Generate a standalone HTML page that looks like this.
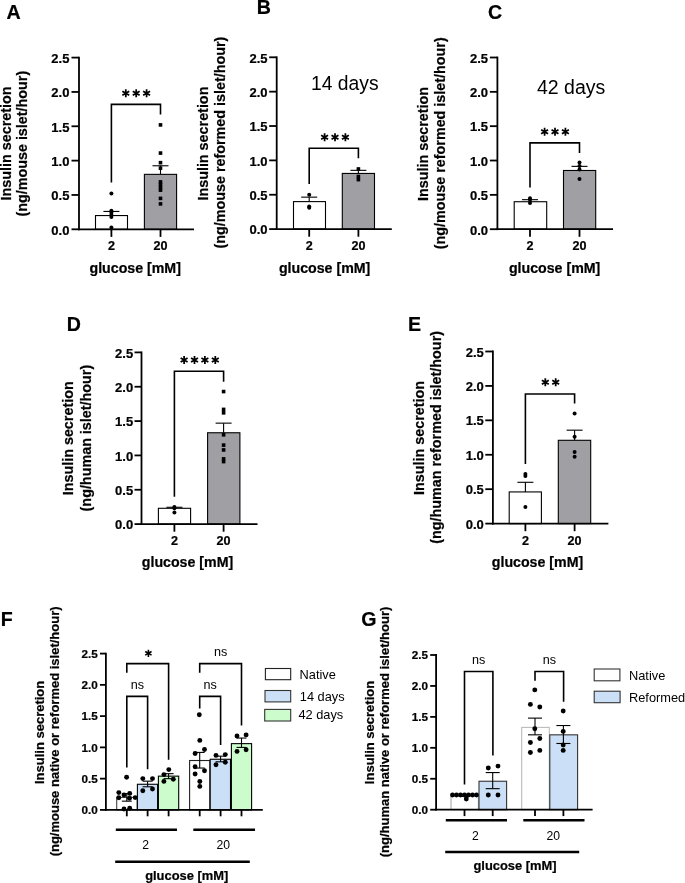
<!DOCTYPE html>
<html><head><meta charset="utf-8"><style>
html,body{margin:0;padding:0;background:#fff;width:685px;height:883px;overflow:hidden}
svg{display:block;will-change:transform;font-family:"Liberation Sans", sans-serif}
</style></head><body>
<svg width="685" height="883" viewBox="0 0 685 883">
<rect width="685" height="883" fill="#fff"/>
<text x="6.6" y="18.8" font-size="19.6" font-weight="bold" stroke="#000" stroke-width="0.22" text-anchor="start" fill="#000">A</text>
<text x="256.8" y="14" font-size="19.6" font-weight="bold" stroke="#000" stroke-width="0.22" text-anchor="start" fill="#000">B</text>
<text x="488" y="18.8" font-size="19.6" font-weight="bold" stroke="#000" stroke-width="0.22" text-anchor="start" fill="#000">C</text>
<text x="66.7" y="330.9" font-size="19.6" font-weight="bold" stroke="#000" stroke-width="0.22" text-anchor="start" fill="#000">D</text>
<text x="408" y="330.9" font-size="19.6" font-weight="bold" stroke="#000" stroke-width="0.22" text-anchor="start" fill="#000">E</text>
<text x="0.8" y="626.1" font-size="19.6" font-weight="bold" stroke="#000" stroke-width="0.22" text-anchor="start" fill="#000">F</text>
<text x="361.3" y="625.5" font-size="19.6" font-weight="bold" stroke="#000" stroke-width="0.22" text-anchor="start" fill="#000">G</text>
<rect x="95.5" y="215.56" width="32" height="13.74" fill="#fff" stroke="#000" stroke-width="1.1"/>
<rect x="144.4" y="174.36" width="32.2" height="54.94" fill="#a09fa4" stroke="#000" stroke-width="1.1"/>
<line x1="111.4" y1="211.44" x2="111.4" y2="215.56" stroke="#000" stroke-width="1.1" stroke-linecap="butt"/>
<line x1="103.4" y1="211.44" x2="119.4" y2="211.44" stroke="#000" stroke-width="1.1" stroke-linecap="butt"/>
<line x1="160.5" y1="165.77" x2="160.5" y2="174.36" stroke="#000" stroke-width="1.1" stroke-linecap="butt"/>
<line x1="152.5" y1="165.77" x2="168.5" y2="165.77" stroke="#000" stroke-width="1.1" stroke-linecap="butt"/>
<circle cx="111.4" cy="193.59" r="2" fill="#000"/>
<circle cx="111.4" cy="210.76" r="2" fill="#000"/>
<circle cx="111.4" cy="212.82" r="2" fill="#000"/>
<circle cx="111.4" cy="214.88" r="2" fill="#000"/>
<circle cx="111.4" cy="216.94" r="2" fill="#000"/>
<circle cx="111.4" cy="227.58" r="2" fill="#000"/>
<rect x="158.7" y="123.11" width="3.6" height="3.6" fill="#000"/>
<rect x="158.7" y="151.27" width="3.6" height="3.6" fill="#000"/>
<rect x="158.7" y="160.88" width="3.6" height="3.6" fill="#000"/>
<rect x="158.7" y="166.37" width="3.6" height="3.6" fill="#000"/>
<rect x="158.7" y="180.11" width="3.6" height="3.6" fill="#000"/>
<rect x="158.7" y="182.86" width="3.6" height="3.6" fill="#000"/>
<rect x="158.7" y="185.61" width="3.6" height="3.6" fill="#000"/>
<rect x="158.7" y="188.35" width="3.6" height="3.6" fill="#000"/>
<rect x="158.7" y="196.59" width="3.6" height="3.6" fill="#000"/>
<rect x="158.7" y="202.09" width="3.6" height="3.6" fill="#000"/>
<line x1="79" y1="56.7" x2="79" y2="230.2" stroke="#000" stroke-width="1.8" stroke-linecap="butt"/>
<line x1="78.1" y1="229.3" x2="194" y2="229.3" stroke="#000" stroke-width="1.8" stroke-linecap="butt"/>
<line x1="71.5" y1="229.3" x2="79" y2="229.3" stroke="#000" stroke-width="1.8" stroke-linecap="butt"/>
<text x="69.4" y="234.6" font-size="13" font-weight="bold" stroke="#000" stroke-width="0.22" text-anchor="end" fill="#000">0.0</text>
<line x1="71.5" y1="194.96" x2="79" y2="194.96" stroke="#000" stroke-width="1.8" stroke-linecap="butt"/>
<text x="69.4" y="200.26" font-size="13" font-weight="bold" stroke="#000" stroke-width="0.22" text-anchor="end" fill="#000">0.5</text>
<line x1="71.5" y1="160.62" x2="79" y2="160.62" stroke="#000" stroke-width="1.8" stroke-linecap="butt"/>
<text x="69.4" y="165.92" font-size="13" font-weight="bold" stroke="#000" stroke-width="0.22" text-anchor="end" fill="#000">1.0</text>
<line x1="71.5" y1="126.28" x2="79" y2="126.28" stroke="#000" stroke-width="1.8" stroke-linecap="butt"/>
<text x="69.4" y="131.58" font-size="13" font-weight="bold" stroke="#000" stroke-width="0.22" text-anchor="end" fill="#000">1.5</text>
<line x1="71.5" y1="91.94" x2="79" y2="91.94" stroke="#000" stroke-width="1.8" stroke-linecap="butt"/>
<text x="69.4" y="97.24" font-size="13" font-weight="bold" stroke="#000" stroke-width="0.22" text-anchor="end" fill="#000">2.0</text>
<line x1="71.5" y1="57.6" x2="79" y2="57.6" stroke="#000" stroke-width="1.8" stroke-linecap="butt"/>
<text x="69.4" y="62.9" font-size="13" font-weight="bold" stroke="#000" stroke-width="0.22" text-anchor="end" fill="#000">2.5</text>
<line x1="111.4" y1="229.3" x2="111.4" y2="236.9" stroke="#000" stroke-width="1.8" stroke-linecap="butt"/>
<line x1="160.5" y1="229.3" x2="160.5" y2="236.9" stroke="#000" stroke-width="1.8" stroke-linecap="butt"/>
<text x="111.4" y="250.1" font-size="12.6" font-weight="bold" stroke="#000" stroke-width="0.22" text-anchor="middle" fill="#000">2</text>
<text x="160.5" y="250.1" font-size="12.6" font-weight="bold" stroke="#000" stroke-width="0.22" text-anchor="middle" fill="#000">20</text>
<text x="135.2" y="272.6" font-size="14.2" font-weight="bold" stroke="#000" stroke-width="0.22" text-anchor="middle" fill="#000">glucose [mM]</text>
<path d="M111.4,182.6V104.4H160.5V114.4" stroke="#000" stroke-width="1.6" fill="none" stroke-linejoin="miter"/>
<path d="M125.8,89.2L125.8,97.2M122.34,91.2L129.26,95.2M122.34,95.2L129.26,91.2" stroke="#000" stroke-width="1.75" fill="none" stroke-linejoin="miter"/>
<path d="M136.2,89.2L136.2,97.2M132.74,91.2L139.66,95.2M132.74,95.2L139.66,91.2" stroke="#000" stroke-width="1.75" fill="none" stroke-linejoin="miter"/>
<path d="M146.6,89.2L146.6,97.2M143.14,91.2L150.06,95.2M143.14,95.2L150.06,91.2" stroke="#000" stroke-width="1.75" fill="none" stroke-linejoin="miter"/>
<text transform="translate(10.9,143.5) rotate(-90)" font-size="14.35" font-weight="bold" stroke="#000" stroke-width="0.22" text-anchor="middle" fill="#000">Insulin secretion</text>
<text transform="translate(27,143.7) rotate(-90)" font-size="14.35" font-weight="bold" stroke="#000" stroke-width="0.22" text-anchor="middle" fill="#000">(ng/mouse islet/hour)</text>
<rect x="293.5" y="201.61" width="32" height="27.49" fill="#fff" stroke="#000" stroke-width="1.1"/>
<rect x="342.3" y="173.44" width="32.2" height="55.66" fill="#a09fa4" stroke="#000" stroke-width="1.1"/>
<line x1="309.2" y1="197.15" x2="309.2" y2="201.61" stroke="#000" stroke-width="1.1" stroke-linecap="butt"/>
<line x1="301.2" y1="197.15" x2="317.2" y2="197.15" stroke="#000" stroke-width="1.1" stroke-linecap="butt"/>
<line x1="358.4" y1="170.34" x2="358.4" y2="173.44" stroke="#000" stroke-width="1.1" stroke-linecap="butt"/>
<line x1="350.4" y1="170.34" x2="366.4" y2="170.34" stroke="#000" stroke-width="1.1" stroke-linecap="butt"/>
<circle cx="309.2" cy="194.74" r="2" fill="#000"/>
<circle cx="309.2" cy="206.42" r="2" fill="#000"/>
<circle cx="309.2" cy="207.8" r="2" fill="#000"/>
<rect x="356.6" y="167.17" width="3.6" height="3.6" fill="#000"/>
<rect x="356.6" y="174.73" width="3.6" height="3.6" fill="#000"/>
<rect x="356.6" y="177.82" width="3.6" height="3.6" fill="#000"/>
<line x1="276.7" y1="56.4" x2="276.7" y2="230" stroke="#000" stroke-width="1.8" stroke-linecap="butt"/>
<line x1="275.8" y1="229.1" x2="391.8" y2="229.1" stroke="#000" stroke-width="1.8" stroke-linecap="butt"/>
<line x1="269.2" y1="229.1" x2="276.7" y2="229.1" stroke="#000" stroke-width="1.8" stroke-linecap="butt"/>
<text x="267.6" y="234.4" font-size="13" font-weight="bold" stroke="#000" stroke-width="0.22" text-anchor="end" fill="#000">0.0</text>
<line x1="269.2" y1="194.74" x2="276.7" y2="194.74" stroke="#000" stroke-width="1.8" stroke-linecap="butt"/>
<text x="267.6" y="200.04" font-size="13" font-weight="bold" stroke="#000" stroke-width="0.22" text-anchor="end" fill="#000">0.5</text>
<line x1="269.2" y1="160.38" x2="276.7" y2="160.38" stroke="#000" stroke-width="1.8" stroke-linecap="butt"/>
<text x="267.6" y="165.68" font-size="13" font-weight="bold" stroke="#000" stroke-width="0.22" text-anchor="end" fill="#000">1.0</text>
<line x1="269.2" y1="126.02" x2="276.7" y2="126.02" stroke="#000" stroke-width="1.8" stroke-linecap="butt"/>
<text x="267.6" y="131.32" font-size="13" font-weight="bold" stroke="#000" stroke-width="0.22" text-anchor="end" fill="#000">1.5</text>
<line x1="269.2" y1="91.66" x2="276.7" y2="91.66" stroke="#000" stroke-width="1.8" stroke-linecap="butt"/>
<text x="267.6" y="96.96" font-size="13" font-weight="bold" stroke="#000" stroke-width="0.22" text-anchor="end" fill="#000">2.0</text>
<line x1="269.2" y1="57.3" x2="276.7" y2="57.3" stroke="#000" stroke-width="1.8" stroke-linecap="butt"/>
<text x="267.6" y="62.6" font-size="13" font-weight="bold" stroke="#000" stroke-width="0.22" text-anchor="end" fill="#000">2.5</text>
<line x1="309.2" y1="229.1" x2="309.2" y2="236.7" stroke="#000" stroke-width="1.8" stroke-linecap="butt"/>
<line x1="358.4" y1="229.1" x2="358.4" y2="236.7" stroke="#000" stroke-width="1.8" stroke-linecap="butt"/>
<text x="309.2" y="250.1" font-size="12.6" font-weight="bold" stroke="#000" stroke-width="0.22" text-anchor="middle" fill="#000">2</text>
<text x="358.4" y="250.1" font-size="12.6" font-weight="bold" stroke="#000" stroke-width="0.22" text-anchor="middle" fill="#000">20</text>
<text x="324.6" y="272.8" font-size="14.2" font-weight="bold" stroke="#000" stroke-width="0.22" text-anchor="middle" fill="#000">glucose [mM]</text>
<path d="M309.2,183.9V148.2H358.4V158.3" stroke="#000" stroke-width="1.6" fill="none" stroke-linejoin="miter"/>
<path d="M324.6,133.2L324.6,141.2M321.14,135.2L328.06,139.2M321.14,139.2L328.06,135.2" stroke="#000" stroke-width="1.75" fill="none" stroke-linejoin="miter"/>
<path d="M335,133.2L335,141.2M331.54,135.2L338.46,139.2M331.54,139.2L338.46,135.2" stroke="#000" stroke-width="1.75" fill="none" stroke-linejoin="miter"/>
<path d="M345.4,133.2L345.4,141.2M341.94,135.2L348.86,139.2M341.94,139.2L348.86,135.2" stroke="#000" stroke-width="1.75" fill="none" stroke-linejoin="miter"/>
<text x="311" y="89.9" font-size="19.3" text-anchor="start" fill="#000">14 days</text>
<text transform="translate(208.4,143.6) rotate(-90)" font-size="14.35" font-weight="bold" stroke="#000" stroke-width="0.22" text-anchor="middle" fill="#000">Insulin secretion</text>
<text transform="translate(225,142.6) rotate(-90)" font-size="14.35" font-weight="bold" stroke="#000" stroke-width="0.22" text-anchor="middle" fill="#000">(ng/mouse reformed islet/hour)</text>
<rect x="514.2" y="201.73" width="32.5" height="27.47" fill="#fff" stroke="#000" stroke-width="1.1"/>
<rect x="563.5" y="170.48" width="32.2" height="58.72" fill="#a09fa4" stroke="#000" stroke-width="1.1"/>
<line x1="530" y1="199.67" x2="530" y2="201.04" stroke="#000" stroke-width="1.1" stroke-linecap="butt"/>
<line x1="522" y1="199.67" x2="538" y2="199.67" stroke="#000" stroke-width="1.1" stroke-linecap="butt"/>
<line x1="579.5" y1="166.36" x2="579.5" y2="170.14" stroke="#000" stroke-width="1.1" stroke-linecap="butt"/>
<line x1="571.5" y1="166.36" x2="587.5" y2="166.36" stroke="#000" stroke-width="1.1" stroke-linecap="butt"/>
<circle cx="530" cy="198.29" r="2" fill="#000"/>
<circle cx="530" cy="199.67" r="2" fill="#000"/>
<circle cx="530" cy="203.1" r="2" fill="#000"/>
<circle cx="579.5" cy="162.58" r="2" fill="#000"/>
<circle cx="579.5" cy="166.01" r="2" fill="#000"/>
<circle cx="579.5" cy="169.45" r="2" fill="#000"/>
<circle cx="579.5" cy="179.06" r="2" fill="#000"/>
<line x1="497.4" y1="56.6" x2="497.4" y2="230.1" stroke="#000" stroke-width="1.8" stroke-linecap="butt"/>
<line x1="496.5" y1="229.2" x2="613" y2="229.2" stroke="#000" stroke-width="1.8" stroke-linecap="butt"/>
<line x1="489.9" y1="229.2" x2="497.4" y2="229.2" stroke="#000" stroke-width="1.8" stroke-linecap="butt"/>
<text x="488.1" y="234.5" font-size="13" font-weight="bold" stroke="#000" stroke-width="0.22" text-anchor="end" fill="#000">0.0</text>
<line x1="489.9" y1="194.86" x2="497.4" y2="194.86" stroke="#000" stroke-width="1.8" stroke-linecap="butt"/>
<text x="488.1" y="200.16" font-size="13" font-weight="bold" stroke="#000" stroke-width="0.22" text-anchor="end" fill="#000">0.5</text>
<line x1="489.9" y1="160.52" x2="497.4" y2="160.52" stroke="#000" stroke-width="1.8" stroke-linecap="butt"/>
<text x="488.1" y="165.82" font-size="13" font-weight="bold" stroke="#000" stroke-width="0.22" text-anchor="end" fill="#000">1.0</text>
<line x1="489.9" y1="126.18" x2="497.4" y2="126.18" stroke="#000" stroke-width="1.8" stroke-linecap="butt"/>
<text x="488.1" y="131.48" font-size="13" font-weight="bold" stroke="#000" stroke-width="0.22" text-anchor="end" fill="#000">1.5</text>
<line x1="489.9" y1="91.84" x2="497.4" y2="91.84" stroke="#000" stroke-width="1.8" stroke-linecap="butt"/>
<text x="488.1" y="97.14" font-size="13" font-weight="bold" stroke="#000" stroke-width="0.22" text-anchor="end" fill="#000">2.0</text>
<line x1="489.9" y1="57.5" x2="497.4" y2="57.5" stroke="#000" stroke-width="1.8" stroke-linecap="butt"/>
<text x="488.1" y="62.8" font-size="13" font-weight="bold" stroke="#000" stroke-width="0.22" text-anchor="end" fill="#000">2.5</text>
<line x1="530" y1="229.2" x2="530" y2="236.8" stroke="#000" stroke-width="1.8" stroke-linecap="butt"/>
<line x1="579.5" y1="229.2" x2="579.5" y2="236.8" stroke="#000" stroke-width="1.8" stroke-linecap="butt"/>
<text x="530" y="250.4" font-size="12.6" font-weight="bold" stroke="#000" stroke-width="0.22" text-anchor="middle" fill="#000">2</text>
<text x="579.5" y="250.4" font-size="12.6" font-weight="bold" stroke="#000" stroke-width="0.22" text-anchor="middle" fill="#000">20</text>
<text x="554.6" y="272.9" font-size="14.2" font-weight="bold" stroke="#000" stroke-width="0.22" text-anchor="middle" fill="#000">glucose [mM]</text>
<path d="M530,187.6V142.9H579.5V153.1" stroke="#000" stroke-width="1.6" fill="none" stroke-linejoin="miter"/>
<path d="M544.6,127.7L544.6,135.7M541.14,129.7L548.06,133.7M541.14,133.7L548.06,129.7" stroke="#000" stroke-width="1.75" fill="none" stroke-linejoin="miter"/>
<path d="M555,127.7L555,135.7M551.54,129.7L558.46,133.7M551.54,133.7L558.46,129.7" stroke="#000" stroke-width="1.75" fill="none" stroke-linejoin="miter"/>
<path d="M565.4,127.7L565.4,135.7M561.94,129.7L568.86,133.7M561.94,133.7L568.86,129.7" stroke="#000" stroke-width="1.75" fill="none" stroke-linejoin="miter"/>
<text x="537" y="94.4" font-size="19.5" text-anchor="start" fill="#000">42 days</text>
<text transform="translate(428.3,144) rotate(-90)" font-size="14.35" font-weight="bold" stroke="#000" stroke-width="0.22" text-anchor="middle" fill="#000">Insulin secretion</text>
<text transform="translate(445.3,143.3) rotate(-90)" font-size="14.35" font-weight="bold" stroke="#000" stroke-width="0.22" text-anchor="middle" fill="#000">(ng/mouse reformed islet/hour)</text>
<rect x="158.4" y="508.3" width="32.2" height="15.8" fill="#fff" stroke="#000" stroke-width="1.1"/>
<rect x="207.6" y="432.76" width="32.3" height="91.34" fill="#a09fa4" stroke="#000" stroke-width="1.1"/>
<line x1="174.4" y1="507.27" x2="174.4" y2="508.3" stroke="#000" stroke-width="1.1" stroke-linecap="butt"/>
<line x1="166.4" y1="507.27" x2="182.4" y2="507.27" stroke="#000" stroke-width="1.1" stroke-linecap="butt"/>
<line x1="223.6" y1="423.14" x2="223.6" y2="432.76" stroke="#000" stroke-width="1.1" stroke-linecap="butt"/>
<line x1="215.6" y1="423.14" x2="231.6" y2="423.14" stroke="#000" stroke-width="1.1" stroke-linecap="butt"/>
<circle cx="174.4" cy="506.93" r="2" fill="#000"/>
<circle cx="174.4" cy="508.3" r="2" fill="#000"/>
<circle cx="174.4" cy="512.42" r="2" fill="#000"/>
<rect x="221.8" y="389.75" width="3.6" height="3.6" fill="#000"/>
<rect x="221.8" y="407.6" width="3.6" height="3.6" fill="#000"/>
<rect x="221.8" y="411.04" width="3.6" height="3.6" fill="#000"/>
<rect x="221.8" y="433.02" width="3.6" height="3.6" fill="#000"/>
<rect x="221.8" y="443.32" width="3.6" height="3.6" fill="#000"/>
<rect x="221.8" y="448.13" width="3.6" height="3.6" fill="#000"/>
<rect x="221.8" y="457.05" width="3.6" height="3.6" fill="#000"/>
<rect x="221.8" y="459.8" width="3.6" height="3.6" fill="#000"/>
<line x1="141.5" y1="351.5" x2="141.5" y2="525" stroke="#000" stroke-width="1.8" stroke-linecap="butt"/>
<line x1="140.6" y1="524.1" x2="257.5" y2="524.1" stroke="#000" stroke-width="1.8" stroke-linecap="butt"/>
<line x1="134.5" y1="524.1" x2="141.5" y2="524.1" stroke="#000" stroke-width="1.8" stroke-linecap="butt"/>
<text x="133.2" y="529.4" font-size="13" font-weight="bold" stroke="#000" stroke-width="0.22" text-anchor="end" fill="#000">0.0</text>
<line x1="134.5" y1="489.76" x2="141.5" y2="489.76" stroke="#000" stroke-width="1.8" stroke-linecap="butt"/>
<text x="133.2" y="495.06" font-size="13" font-weight="bold" stroke="#000" stroke-width="0.22" text-anchor="end" fill="#000">0.5</text>
<line x1="134.5" y1="455.42" x2="141.5" y2="455.42" stroke="#000" stroke-width="1.8" stroke-linecap="butt"/>
<text x="133.2" y="460.72" font-size="13" font-weight="bold" stroke="#000" stroke-width="0.22" text-anchor="end" fill="#000">1.0</text>
<line x1="134.5" y1="421.08" x2="141.5" y2="421.08" stroke="#000" stroke-width="1.8" stroke-linecap="butt"/>
<text x="133.2" y="426.38" font-size="13" font-weight="bold" stroke="#000" stroke-width="0.22" text-anchor="end" fill="#000">1.5</text>
<line x1="134.5" y1="386.74" x2="141.5" y2="386.74" stroke="#000" stroke-width="1.8" stroke-linecap="butt"/>
<text x="133.2" y="392.04" font-size="13" font-weight="bold" stroke="#000" stroke-width="0.22" text-anchor="end" fill="#000">2.0</text>
<line x1="134.5" y1="352.4" x2="141.5" y2="352.4" stroke="#000" stroke-width="1.8" stroke-linecap="butt"/>
<text x="133.2" y="357.7" font-size="13" font-weight="bold" stroke="#000" stroke-width="0.22" text-anchor="end" fill="#000">2.5</text>
<line x1="174.4" y1="524.1" x2="174.4" y2="531.7" stroke="#000" stroke-width="1.8" stroke-linecap="butt"/>
<line x1="223.6" y1="524.1" x2="223.6" y2="531.7" stroke="#000" stroke-width="1.8" stroke-linecap="butt"/>
<text x="174.4" y="545.1" font-size="12.6" font-weight="bold" stroke="#000" stroke-width="0.22" text-anchor="middle" fill="#000">2</text>
<text x="223.6" y="545.1" font-size="12.6" font-weight="bold" stroke="#000" stroke-width="0.22" text-anchor="middle" fill="#000">20</text>
<text x="187.5" y="567.2" font-size="14.2" font-weight="bold" stroke="#000" stroke-width="0.22" text-anchor="middle" fill="#000">glucose [mM]</text>
<path d="M174.4,496.7V371.3H223.6V381.8" stroke="#000" stroke-width="1.6" fill="none" stroke-linejoin="miter"/>
<path d="M184.1,356L184.1,364M180.64,358L187.56,362M180.64,362L187.56,358" stroke="#000" stroke-width="1.75" fill="none" stroke-linejoin="miter"/>
<path d="M194.5,356L194.5,364M191.04,358L197.96,362M191.04,362L197.96,358" stroke="#000" stroke-width="1.75" fill="none" stroke-linejoin="miter"/>
<path d="M204.9,356L204.9,364M201.44,358L208.36,362M201.44,362L208.36,358" stroke="#000" stroke-width="1.75" fill="none" stroke-linejoin="miter"/>
<path d="M215.3,356L215.3,364M211.84,358L218.76,362M211.84,362L218.76,358" stroke="#000" stroke-width="1.75" fill="none" stroke-linejoin="miter"/>
<text transform="translate(73,438.3) rotate(-90)" font-size="14.35" font-weight="bold" stroke="#000" stroke-width="0.22" text-anchor="middle" fill="#000">Insulin secretion</text>
<text transform="translate(90.7,438.1) rotate(-90)" font-size="14.35" font-weight="bold" stroke="#000" stroke-width="0.22" text-anchor="middle" fill="#000">(ng/human islet/hour)</text>
<rect x="509.2" y="491.93" width="32.2" height="31.67" fill="#fff" stroke="#000" stroke-width="1.1"/>
<rect x="558.3" y="440.3" width="32.4" height="83.3" fill="#a09fa4" stroke="#000" stroke-width="1.1"/>
<line x1="525.4" y1="482.3" x2="525.4" y2="491.93" stroke="#000" stroke-width="1.1" stroke-linecap="butt"/>
<line x1="517.4" y1="482.3" x2="533.4" y2="482.3" stroke="#000" stroke-width="1.1" stroke-linecap="butt"/>
<line x1="574.6" y1="430.18" x2="574.6" y2="440.3" stroke="#000" stroke-width="1.1" stroke-linecap="butt"/>
<line x1="566.6" y1="430.18" x2="582.6" y2="430.18" stroke="#000" stroke-width="1.1" stroke-linecap="butt"/>
<circle cx="525.4" cy="474.04" r="2" fill="#000"/>
<circle cx="525.4" cy="476.1" r="2" fill="#000"/>
<circle cx="525.4" cy="507.08" r="2" fill="#000"/>
<circle cx="574.6" cy="413.46" r="2" fill="#000"/>
<circle cx="574.6" cy="436.86" r="2" fill="#000"/>
<circle cx="574.6" cy="452.01" r="2" fill="#000"/>
<circle cx="574.6" cy="456.83" r="2" fill="#000"/>
<line x1="492.9" y1="350.6" x2="492.9" y2="524.5" stroke="#000" stroke-width="1.8" stroke-linecap="butt"/>
<line x1="492" y1="523.6" x2="608.4" y2="523.6" stroke="#000" stroke-width="1.8" stroke-linecap="butt"/>
<line x1="485.3" y1="523.6" x2="492.9" y2="523.6" stroke="#000" stroke-width="1.8" stroke-linecap="butt"/>
<text x="483.8" y="528.6" font-size="13" font-weight="bold" stroke="#000" stroke-width="0.22" text-anchor="end" fill="#000">0.0</text>
<line x1="485.3" y1="489.18" x2="492.9" y2="489.18" stroke="#000" stroke-width="1.8" stroke-linecap="butt"/>
<text x="483.8" y="494.18" font-size="13" font-weight="bold" stroke="#000" stroke-width="0.22" text-anchor="end" fill="#000">0.5</text>
<line x1="485.3" y1="454.76" x2="492.9" y2="454.76" stroke="#000" stroke-width="1.8" stroke-linecap="butt"/>
<text x="483.8" y="459.76" font-size="13" font-weight="bold" stroke="#000" stroke-width="0.22" text-anchor="end" fill="#000">1.0</text>
<line x1="485.3" y1="420.34" x2="492.9" y2="420.34" stroke="#000" stroke-width="1.8" stroke-linecap="butt"/>
<text x="483.8" y="425.34" font-size="13" font-weight="bold" stroke="#000" stroke-width="0.22" text-anchor="end" fill="#000">1.5</text>
<line x1="485.3" y1="385.92" x2="492.9" y2="385.92" stroke="#000" stroke-width="1.8" stroke-linecap="butt"/>
<text x="483.8" y="390.92" font-size="13" font-weight="bold" stroke="#000" stroke-width="0.22" text-anchor="end" fill="#000">2.0</text>
<line x1="485.3" y1="351.5" x2="492.9" y2="351.5" stroke="#000" stroke-width="1.8" stroke-linecap="butt"/>
<text x="483.8" y="356.5" font-size="13" font-weight="bold" stroke="#000" stroke-width="0.22" text-anchor="end" fill="#000">2.5</text>
<line x1="525.4" y1="523.6" x2="525.4" y2="531.2" stroke="#000" stroke-width="1.8" stroke-linecap="butt"/>
<line x1="574.6" y1="523.6" x2="574.6" y2="531.2" stroke="#000" stroke-width="1.8" stroke-linecap="butt"/>
<text x="525.4" y="544.7" font-size="12.6" font-weight="bold" stroke="#000" stroke-width="0.22" text-anchor="middle" fill="#000">2</text>
<text x="574.6" y="544.7" font-size="12.6" font-weight="bold" stroke="#000" stroke-width="0.22" text-anchor="middle" fill="#000">20</text>
<text x="537.5" y="567.4" font-size="14.2" font-weight="bold" stroke="#000" stroke-width="0.22" text-anchor="middle" fill="#000">glucose [mM]</text>
<path d="M525.4,464V394H574.6V403.6" stroke="#000" stroke-width="1.6" fill="none" stroke-linejoin="miter"/>
<path d="M545.3,378.3L545.3,386.3M541.84,380.3L548.76,384.3M541.84,384.3L548.76,380.3" stroke="#000" stroke-width="1.75" fill="none" stroke-linejoin="miter"/>
<path d="M555.7,378.3L555.7,386.3M552.24,380.3L559.16,384.3M552.24,384.3L559.16,380.3" stroke="#000" stroke-width="1.75" fill="none" stroke-linejoin="miter"/>
<text transform="translate(424.2,437.9) rotate(-90)" font-size="14.35" font-weight="bold" stroke="#000" stroke-width="0.22" text-anchor="middle" fill="#000">Insulin secretion</text>
<text transform="translate(440.7,437.4) rotate(-90)" font-size="14.35" font-weight="bold" stroke="#000" stroke-width="0.22" text-anchor="middle" fill="#000">(ng/human reformed islet/hour)</text>
<rect x="116.7" y="797.4" width="20.5" height="12.5" fill="#fff" stroke="#444" stroke-width="1.1"/>
<rect x="137.4" y="784.27" width="20.2" height="25.63" fill="#cbdff7" stroke="#000" stroke-width="1.1"/>
<rect x="158.4" y="776.14" width="20.3" height="33.76" fill="#ccfccc" stroke="#000" stroke-width="1.1"/>
<rect x="189.6" y="760.51" width="20.2" height="49.39" fill="#fff" stroke="#222" stroke-width="1.1"/>
<rect x="210.2" y="759.26" width="20.3" height="50.64" fill="#cbdff7" stroke="#000" stroke-width="1.1"/>
<rect x="231.4" y="743.63" width="20.2" height="66.27" fill="#ccfccc" stroke="#000" stroke-width="1.1"/>
<line x1="105.9" y1="652.7" x2="105.9" y2="810.8" stroke="#000" stroke-width="1.8" stroke-linecap="butt"/>
<line x1="105" y1="809.9" x2="262.8" y2="809.9" stroke="#000" stroke-width="1.8" stroke-linecap="butt"/>
<line x1="100" y1="809.9" x2="105.9" y2="809.9" stroke="#000" stroke-width="1.8" stroke-linecap="butt"/>
<text x="97.7" y="814.2" font-size="11.7" font-weight="bold" stroke="#000" stroke-width="0.22" text-anchor="end" fill="#000">0.0</text>
<line x1="100" y1="778.64" x2="105.9" y2="778.64" stroke="#000" stroke-width="1.8" stroke-linecap="butt"/>
<text x="97.7" y="782.94" font-size="11.7" font-weight="bold" stroke="#000" stroke-width="0.22" text-anchor="end" fill="#000">0.5</text>
<line x1="100" y1="747.38" x2="105.9" y2="747.38" stroke="#000" stroke-width="1.8" stroke-linecap="butt"/>
<text x="97.7" y="751.68" font-size="11.7" font-weight="bold" stroke="#000" stroke-width="0.22" text-anchor="end" fill="#000">1.0</text>
<line x1="100" y1="716.12" x2="105.9" y2="716.12" stroke="#000" stroke-width="1.8" stroke-linecap="butt"/>
<text x="97.7" y="720.42" font-size="11.7" font-weight="bold" stroke="#000" stroke-width="0.22" text-anchor="end" fill="#000">1.5</text>
<line x1="100" y1="684.86" x2="105.9" y2="684.86" stroke="#000" stroke-width="1.8" stroke-linecap="butt"/>
<text x="97.7" y="689.16" font-size="11.7" font-weight="bold" stroke="#000" stroke-width="0.22" text-anchor="end" fill="#000">2.0</text>
<line x1="100" y1="653.6" x2="105.9" y2="653.6" stroke="#000" stroke-width="1.8" stroke-linecap="butt"/>
<text x="97.7" y="657.9" font-size="11.7" font-weight="bold" stroke="#000" stroke-width="0.22" text-anchor="end" fill="#000">2.5</text>
<line x1="126.8" y1="809.9" x2="126.8" y2="816.3" stroke="#000" stroke-width="1.8" stroke-linecap="butt"/>
<line x1="147.6" y1="809.9" x2="147.6" y2="816.3" stroke="#000" stroke-width="1.8" stroke-linecap="butt"/>
<line x1="168.6" y1="809.9" x2="168.6" y2="816.3" stroke="#000" stroke-width="1.8" stroke-linecap="butt"/>
<line x1="199.7" y1="809.9" x2="199.7" y2="816.3" stroke="#000" stroke-width="1.8" stroke-linecap="butt"/>
<line x1="220.6" y1="809.9" x2="220.6" y2="816.3" stroke="#000" stroke-width="1.8" stroke-linecap="butt"/>
<line x1="241.5" y1="809.9" x2="241.5" y2="816.3" stroke="#000" stroke-width="1.8" stroke-linecap="butt"/>
<text x="145.6" y="849.4" font-size="12.2" text-anchor="middle" fill="#000">2</text>
<text x="223.3" y="849.4" font-size="12.2" text-anchor="middle" fill="#000">20</text>
<text x="186.7" y="879.6" font-size="12.9" font-weight="bold" stroke="#000" stroke-width="0.22" text-anchor="middle" fill="#000">glucose [mM]</text>
<path d="M126.8,672.8V663.6H168.6V759.7" stroke="#000" stroke-width="1.6" fill="none" stroke-linejoin="miter"/>
<path d="M126.8,767.6V696.4H147.6V769.3" stroke="#000" stroke-width="1.6" fill="none" stroke-linejoin="miter"/>
<path d="M199.7,672.8V663.6H241.5V725.5" stroke="#000" stroke-width="1.6" fill="none" stroke-linejoin="miter"/>
<path d="M199.7,708.6V696.4H220.6V745.1" stroke="#000" stroke-width="1.6" fill="none" stroke-linejoin="miter"/>
<line x1="126.8" y1="793.66" x2="126.8" y2="801.15" stroke="#000" stroke-width="1.1" stroke-linecap="butt"/>
<line x1="121.8" y1="793.66" x2="131.8" y2="793.66" stroke="#000" stroke-width="1.1" stroke-linecap="butt"/>
<line x1="121.8" y1="801.15" x2="131.8" y2="801.15" stroke="#000" stroke-width="1.1" stroke-linecap="butt"/>
<line x1="147.6" y1="781.16" x2="147.6" y2="786.78" stroke="#000" stroke-width="1.1" stroke-linecap="butt"/>
<line x1="142.6" y1="781.16" x2="152.6" y2="781.16" stroke="#000" stroke-width="1.1" stroke-linecap="butt"/>
<line x1="142.6" y1="786.78" x2="152.6" y2="786.78" stroke="#000" stroke-width="1.1" stroke-linecap="butt"/>
<line x1="168.6" y1="773.66" x2="168.6" y2="778.66" stroke="#000" stroke-width="1.1" stroke-linecap="butt"/>
<line x1="163.6" y1="773.66" x2="173.6" y2="773.66" stroke="#000" stroke-width="1.1" stroke-linecap="butt"/>
<line x1="163.6" y1="778.66" x2="173.6" y2="778.66" stroke="#000" stroke-width="1.1" stroke-linecap="butt"/>
<line x1="199.7" y1="752.42" x2="199.7" y2="768.04" stroke="#000" stroke-width="1.1" stroke-linecap="butt"/>
<line x1="194.7" y1="752.42" x2="204.7" y2="752.42" stroke="#000" stroke-width="1.1" stroke-linecap="butt"/>
<line x1="194.7" y1="768.04" x2="204.7" y2="768.04" stroke="#000" stroke-width="1.1" stroke-linecap="butt"/>
<line x1="220.6" y1="756.17" x2="220.6" y2="761.79" stroke="#000" stroke-width="1.1" stroke-linecap="butt"/>
<line x1="215.6" y1="756.17" x2="225.6" y2="756.17" stroke="#000" stroke-width="1.1" stroke-linecap="butt"/>
<line x1="215.6" y1="761.79" x2="225.6" y2="761.79" stroke="#000" stroke-width="1.1" stroke-linecap="butt"/>
<line x1="241.5" y1="738.05" x2="241.5" y2="747.42" stroke="#000" stroke-width="1.1" stroke-linecap="butt"/>
<line x1="236.5" y1="738.05" x2="246.5" y2="738.05" stroke="#000" stroke-width="1.1" stroke-linecap="butt"/>
<line x1="236.5" y1="747.42" x2="246.5" y2="747.42" stroke="#000" stroke-width="1.1" stroke-linecap="butt"/>
<circle cx="126.6" cy="777.2" r="2.45" fill="#000"/>
<circle cx="118.8" cy="792.6" r="2.45" fill="#000"/>
<circle cx="124" cy="795" r="2.45" fill="#000"/>
<circle cx="129.7" cy="793.4" r="2.45" fill="#000"/>
<circle cx="118.8" cy="797.8" r="2.45" fill="#000"/>
<circle cx="129.5" cy="798.3" r="2.45" fill="#000"/>
<circle cx="135.2" cy="797.6" r="2.45" fill="#000"/>
<circle cx="124" cy="809" r="2.45" fill="#000"/>
<circle cx="129.7" cy="808.2" r="2.45" fill="#000"/>
<circle cx="142.8" cy="778.6" r="2.45" fill="#000"/>
<circle cx="152.5" cy="778.6" r="2.45" fill="#000"/>
<circle cx="142.8" cy="790.7" r="2.45" fill="#000"/>
<circle cx="152.5" cy="789" r="2.45" fill="#000"/>
<circle cx="168.8" cy="769.6" r="2.45" fill="#000"/>
<circle cx="163.9" cy="774.6" r="2.45" fill="#000"/>
<circle cx="163.9" cy="781.4" r="2.45" fill="#000"/>
<circle cx="173.3" cy="779.2" r="2.45" fill="#000"/>
<circle cx="199.3" cy="714.7" r="2.45" fill="#000"/>
<circle cx="199.8" cy="740.4" r="2.45" fill="#000"/>
<circle cx="204.5" cy="749.5" r="2.45" fill="#000"/>
<circle cx="195.1" cy="753.5" r="2.45" fill="#000"/>
<circle cx="195.1" cy="766.7" r="2.45" fill="#000"/>
<circle cx="204.5" cy="770.7" r="2.45" fill="#000"/>
<circle cx="195.1" cy="774" r="2.45" fill="#000"/>
<circle cx="199.8" cy="781.5" r="2.45" fill="#000"/>
<circle cx="199.8" cy="786.4" r="2.45" fill="#000"/>
<circle cx="216" cy="755.4" r="2.45" fill="#000"/>
<circle cx="225.3" cy="754.6" r="2.45" fill="#000"/>
<circle cx="216" cy="764.8" r="2.45" fill="#000"/>
<circle cx="225.3" cy="762.3" r="2.45" fill="#000"/>
<circle cx="237" cy="736" r="2.45" fill="#000"/>
<circle cx="246.1" cy="734.9" r="2.45" fill="#000"/>
<circle cx="237" cy="751.4" r="2.45" fill="#000"/>
<circle cx="246.1" cy="749.7" r="2.45" fill="#000"/>
<line x1="115.8" y1="829.7" x2="177" y2="829.7" stroke="#000" stroke-width="2.4" stroke-linecap="butt"/>
<line x1="193.3" y1="829.7" x2="255" y2="829.7" stroke="#000" stroke-width="2.4" stroke-linecap="butt"/>
<line x1="115.2" y1="861.7" x2="249.8" y2="861.7" stroke="#000" stroke-width="2.4" stroke-linecap="butt"/>
<path d="M148.4,649.65L148.4,656.95M145.24,651.47L151.56,655.12M145.24,655.12L151.56,651.47" stroke="#000" stroke-width="1.6" fill="none" stroke-linejoin="miter"/>
<text x="137.4" y="688.6" font-size="12.6" text-anchor="middle" fill="#000">ns</text>
<text x="220.6" y="656.2" font-size="12.6" text-anchor="middle" fill="#000">ns</text>
<text x="210.2" y="688.9" font-size="12.6" text-anchor="middle" fill="#000">ns</text>
<rect x="265.4" y="668.5" width="25.3" height="11.2" fill="#fff" stroke="#222" stroke-width="1.1"/>
<rect x="265" y="690.5" width="25.7" height="11.4" fill="#cbdff7" stroke="#333" stroke-width="1.1"/>
<rect x="264.7" y="709.4" width="26" height="11.6" fill="#ccfccc" stroke="#333" stroke-width="1.1"/>
<text x="299.6" y="679.1" font-size="12.8" text-anchor="start" fill="#000">Native</text>
<text x="299.8" y="700.6" font-size="12.8" text-anchor="start" fill="#000">14 days</text>
<text x="298.4" y="718.8" font-size="12.8" text-anchor="start" fill="#000">42 days</text>
<text transform="translate(44.3,732.4) rotate(-90)" font-size="13" font-weight="bold" stroke="#000" stroke-width="0.22" text-anchor="middle" fill="#000">Insulin secretion</text>
<text transform="translate(58.8,731.4) rotate(-90)" font-size="13" font-weight="bold" stroke="#000" stroke-width="0.22" text-anchor="middle" fill="#000">(ng/mouse native or reformed islet/hour)</text>
<rect x="451" y="796.09" width="27.4" height="13.61" fill="#fff" stroke="#aaa" stroke-width="1.1"/>
<rect x="479" y="781.24" width="27.6" height="28.46" fill="#cbdff7" stroke="#333" stroke-width="1.1"/>
<rect x="521.7" y="727.4" width="27.6" height="82.3" fill="#fff" stroke="#bbb" stroke-width="1.1"/>
<rect x="549.8" y="734.83" width="27.8" height="74.87" fill="#cbdff7" stroke="#333" stroke-width="1.1"/>
<line x1="436.1" y1="654.1" x2="436.1" y2="810.6" stroke="#000" stroke-width="1.8" stroke-linecap="butt"/>
<line x1="435.2" y1="809.7" x2="592.6" y2="809.7" stroke="#000" stroke-width="1.8" stroke-linecap="butt"/>
<line x1="430.2" y1="809.7" x2="436.1" y2="809.7" stroke="#000" stroke-width="1.8" stroke-linecap="butt"/>
<text x="428.1" y="814" font-size="11.7" font-weight="bold" stroke="#000" stroke-width="0.22" text-anchor="end" fill="#000">0.0</text>
<line x1="430.2" y1="778.76" x2="436.1" y2="778.76" stroke="#000" stroke-width="1.8" stroke-linecap="butt"/>
<text x="428.1" y="783.06" font-size="11.7" font-weight="bold" stroke="#000" stroke-width="0.22" text-anchor="end" fill="#000">0.5</text>
<line x1="430.2" y1="747.82" x2="436.1" y2="747.82" stroke="#000" stroke-width="1.8" stroke-linecap="butt"/>
<text x="428.1" y="752.12" font-size="11.7" font-weight="bold" stroke="#000" stroke-width="0.22" text-anchor="end" fill="#000">1.0</text>
<line x1="430.2" y1="716.88" x2="436.1" y2="716.88" stroke="#000" stroke-width="1.8" stroke-linecap="butt"/>
<text x="428.1" y="721.18" font-size="11.7" font-weight="bold" stroke="#000" stroke-width="0.22" text-anchor="end" fill="#000">1.5</text>
<line x1="430.2" y1="685.94" x2="436.1" y2="685.94" stroke="#000" stroke-width="1.8" stroke-linecap="butt"/>
<text x="428.1" y="690.24" font-size="11.7" font-weight="bold" stroke="#000" stroke-width="0.22" text-anchor="end" fill="#000">2.0</text>
<line x1="430.2" y1="655" x2="436.1" y2="655" stroke="#000" stroke-width="1.8" stroke-linecap="butt"/>
<text x="428.1" y="659.3" font-size="11.7" font-weight="bold" stroke="#000" stroke-width="0.22" text-anchor="end" fill="#000">2.5</text>
<line x1="464.5" y1="809.7" x2="464.5" y2="816.1" stroke="#000" stroke-width="1.8" stroke-linecap="butt"/>
<line x1="492.7" y1="809.7" x2="492.7" y2="816.1" stroke="#000" stroke-width="1.8" stroke-linecap="butt"/>
<line x1="535" y1="809.7" x2="535" y2="816.1" stroke="#000" stroke-width="1.8" stroke-linecap="butt"/>
<line x1="563.4" y1="809.7" x2="563.4" y2="816.1" stroke="#000" stroke-width="1.8" stroke-linecap="butt"/>
<text x="475.5" y="840" font-size="12.2" text-anchor="middle" fill="#000">2</text>
<text x="553.3" y="840" font-size="12.2" text-anchor="middle" fill="#000">20</text>
<text x="515" y="870.3" font-size="12.9" font-weight="bold" stroke="#000" stroke-width="0.22" text-anchor="middle" fill="#000">glucose [mM]</text>
<path d="M464.5,784.5V671.5H492.9V755.6" stroke="#000" stroke-width="1.6" fill="none" stroke-linejoin="miter"/>
<path d="M535,680.7V671.5H563.6V701.7" stroke="#000" stroke-width="1.6" fill="none" stroke-linejoin="miter"/>
<line x1="464.5" y1="794.54" x2="464.5" y2="796.4" stroke="#000" stroke-width="1.1" stroke-linecap="butt"/>
<line x1="459.5" y1="794.54" x2="469.5" y2="794.54" stroke="#000" stroke-width="1.1" stroke-linecap="butt"/>
<line x1="459.5" y1="796.4" x2="469.5" y2="796.4" stroke="#000" stroke-width="1.1" stroke-linecap="butt"/>
<line x1="492.7" y1="772.57" x2="492.7" y2="788.66" stroke="#000" stroke-width="1.1" stroke-linecap="butt"/>
<line x1="485.7" y1="772.57" x2="499.7" y2="772.57" stroke="#000" stroke-width="1.1" stroke-linecap="butt"/>
<line x1="485.7" y1="788.66" x2="499.7" y2="788.66" stroke="#000" stroke-width="1.1" stroke-linecap="butt"/>
<line x1="535" y1="718.12" x2="535" y2="734.83" stroke="#000" stroke-width="1.1" stroke-linecap="butt"/>
<line x1="528" y1="718.12" x2="542" y2="718.12" stroke="#000" stroke-width="1.1" stroke-linecap="butt"/>
<line x1="528" y1="734.83" x2="542" y2="734.83" stroke="#000" stroke-width="1.1" stroke-linecap="butt"/>
<line x1="563.4" y1="725.54" x2="563.4" y2="743.49" stroke="#000" stroke-width="1.1" stroke-linecap="butt"/>
<line x1="556.4" y1="725.54" x2="570.4" y2="725.54" stroke="#000" stroke-width="1.1" stroke-linecap="butt"/>
<line x1="556.4" y1="743.49" x2="570.4" y2="743.49" stroke="#000" stroke-width="1.1" stroke-linecap="butt"/>
<circle cx="452.5" cy="795" r="2.45" fill="#000"/>
<circle cx="456.5" cy="795" r="2.45" fill="#000"/>
<circle cx="460.5" cy="795" r="2.45" fill="#000"/>
<circle cx="464.5" cy="795" r="2.45" fill="#000"/>
<circle cx="468.5" cy="795" r="2.45" fill="#000"/>
<circle cx="472.5" cy="795" r="2.45" fill="#000"/>
<circle cx="476.5" cy="795" r="2.45" fill="#000"/>
<circle cx="466.3" cy="799" r="2.45" fill="#000"/>
<circle cx="488.3" cy="768" r="2.45" fill="#000"/>
<circle cx="498" cy="766.1" r="2.45" fill="#000"/>
<circle cx="488.3" cy="795" r="2.45" fill="#000"/>
<circle cx="498" cy="795" r="2.45" fill="#000"/>
<circle cx="534.8" cy="689.9" r="2.45" fill="#000"/>
<circle cx="530.4" cy="704.4" r="2.45" fill="#000"/>
<circle cx="539.8" cy="707" r="2.45" fill="#000"/>
<circle cx="534.8" cy="728.8" r="2.45" fill="#000"/>
<circle cx="530.4" cy="742.5" r="2.45" fill="#000"/>
<circle cx="539.8" cy="738.5" r="2.45" fill="#000"/>
<circle cx="530.4" cy="752.5" r="2.45" fill="#000"/>
<circle cx="539.8" cy="750.4" r="2.45" fill="#000"/>
<circle cx="563.2" cy="711" r="2.45" fill="#000"/>
<circle cx="563.2" cy="731.4" r="2.45" fill="#000"/>
<circle cx="563.2" cy="745" r="2.45" fill="#000"/>
<circle cx="563.2" cy="750.4" r="2.45" fill="#000"/>
<line x1="445.8" y1="820.2" x2="507" y2="820.2" stroke="#000" stroke-width="2.4" stroke-linecap="butt"/>
<line x1="523.3" y1="820.2" x2="584.5" y2="820.2" stroke="#000" stroke-width="2.4" stroke-linecap="butt"/>
<line x1="445.2" y1="852" x2="579.2" y2="852" stroke="#000" stroke-width="2.4" stroke-linecap="butt"/>
<text x="478.6" y="664.4" font-size="12.6" text-anchor="middle" fill="#000">ns</text>
<text x="549.5" y="664.4" font-size="12.6" text-anchor="middle" fill="#000">ns</text>
<rect x="594.2" y="669" width="25.7" height="11.8" fill="#fff" stroke="#333" stroke-width="1.1"/>
<rect x="594.2" y="691.2" width="25.9" height="11.5" fill="#cbdff7" stroke="#333" stroke-width="1.1"/>
<text x="629" y="680.1" font-size="12.8" text-anchor="start" fill="#000">Native</text>
<text x="629" y="701.6" font-size="12.8" text-anchor="start" fill="#000">Reformed</text>
<text transform="translate(374.4,732.5) rotate(-90)" font-size="13" font-weight="bold" stroke="#000" stroke-width="0.22" text-anchor="middle" fill="#000">Insulin secretion</text>
<text transform="translate(388.8,732) rotate(-90)" font-size="13" font-weight="bold" stroke="#000" stroke-width="0.22" text-anchor="middle" fill="#000">(ng/human native or reformed islet/hour)</text>
</svg>
</body></html>
